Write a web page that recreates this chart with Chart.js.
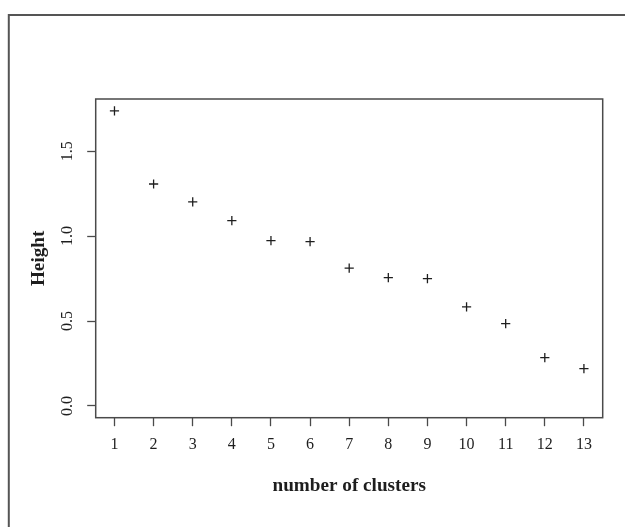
<!DOCTYPE html>
<html>
<head>
<meta charset="utf-8">
<script src="https://cdn.jsdelivr.net/npm/chart.js@4/dist/chart.umd.min.js"></script>
<style>
  html, body { margin: 0; padding: 0; background: #ffffff; }
  #wrap { width: 625px; height: 527px; }
</style>
</head>
<body>
<div id="wrap"><canvas id="c" width="625" height="527"></canvas></div>
<script>
// Number of clusters and the merge height at each cut
const clusters = [1, 2, 3, 4, 5, 6, 7, 8, 9, 10, 11, 12, 13];
const heights = [1.738, 1.307, 1.202, 1.091, 0.973, 0.967, 0.812, 0.755, 0.749, 0.583, 0.484, 0.284, 0.220];

// Axis ticks
const xTicks = [1, 2, 3, 4, 5, 6, 7, 8, 9, 10, 11, 12, 13];
const yTicks = [0, 0.5, 1.0, 1.5];
const xTitle = 'number of clusters';
const yTitle = 'Height';

// Axis limits padded by 4% of the data span on each side
const xPad = (Math.max(...clusters) - Math.min(...clusters)) * 0.04;
const yTop = Math.max(...heights);
const yPad = yTop * 0.04;

const ink = '#1e1e1e';
const frame = '#4a4a4a';
const serif = '"Liberation Serif", "Times New Roman", serif';

// Frame around the plotting region and the page edge lines
const framePlugin = {
  id: 'frame',
  beforeDraw(chart) {
    const ctx = chart.ctx;
    ctx.save();
    ctx.fillStyle = '#ffffff';
    ctx.fillRect(0, 0, chart.width, chart.height);
    ctx.strokeStyle = '#555555';
    ctx.lineWidth = 2;
    ctx.beginPath();
    ctx.moveTo(8.8, chart.height);
    ctx.lineTo(8.8, 15);
    ctx.lineTo(chart.width, 15);
    ctx.stroke();
    ctx.restore();
  },
  afterDraw(chart) {
    const a = chart.chartArea;
    const ctx = chart.ctx;
    ctx.save();
    ctx.strokeStyle = frame;
    ctx.lineWidth = 1.5;
    ctx.strokeRect(a.left, a.top, a.right - a.left, a.bottom - a.top);
    ctx.restore();
  }
};

new Chart(document.getElementById('c'), {
  type: 'scatter',
  data: {
    datasets: [{
      data: clusters.map((k, i) => ({ x: k, y: heights[i] })),
      pointStyle: 'cross',
      pointRadius: 4.6,
      pointHoverRadius: 4.6,
      borderColor: ink,
      backgroundColor: ink,
      pointBorderWidth: 1.3,
      showLine: false
    }]
  },
  options: {
    responsive: false,
    devicePixelRatio: 1,
    animation: false,
    events: [],
    layout: { padding: { top: 99, right: 22.3, left: 0, bottom: 0 } },
    plugins: {
      legend: { display: false },
      tooltip: { enabled: false }
    },
    scales: {
      x: {
        type: 'linear',
        position: 'bottom',
        bounds: 'data',
        min: Math.min(...clusters) - xPad,
        max: Math.max(...clusters) + xPad,
        afterBuildTicks: (s) => { s.ticks = xTicks.map(v => ({ value: v })); },
        afterFit: (s) => { s.height = 109.3; },
        ticks: {
          stepSize: 1,
          autoSkip: false,
          maxRotation: 0,
          minRotation: 0,
          padding: 9.2,
          color: ink,
          font: { family: serif, size: 16, lineHeight: 1.2 },
          callback: (v) => String(v)
        },
        grid: {
          display: true,
          drawOnChartArea: false,
          drawTicks: true,
          tickLength: 8.5,
          tickColor: frame,
          tickWidth: 1.3
        },
        border: { display: false },
        title: {
          display: true,
          text: xTitle,
          color: ink,
          font: { family: serif, size: 19.2, weight: 'bold', lineHeight: 1.2 },
          padding: { top: 0, bottom: 29.5 }
        }
      },
      y: {
        type: 'linear',
        position: 'left',
        bounds: 'data',
        min: 0 - yPad,
        max: yTop + yPad,
        afterBuildTicks: (s) => { s.ticks = yTicks.map(v => ({ value: v })); },
        afterFit: (s) => { s.width = 95.7; },
        ticks: {
          autoSkip: false,
          minRotation: 90,
          maxRotation: 90,
          crossAlign: 'center',
          padding: 9,
          color: ink,
          font: { family: serif, size: 16, lineHeight: 1.2 },
          callback: (v) => Number(v).toFixed(1)
        },
        grid: {
          display: true,
          drawOnChartArea: false,
          drawTicks: true,
          tickLength: 8.5,
          tickColor: frame,
          tickWidth: 1.3
        },
        border: { display: false },
        title: {
          display: true,
          text: yTitle,
          color: ink,
          font: { family: serif, size: 19.2, weight: 'bold', lineHeight: 1.2 },
          padding: { top: 27.5, bottom: 0 }
        }
      }
    }
  },
  plugins: [framePlugin]
});
</script>
</body>
</html>
